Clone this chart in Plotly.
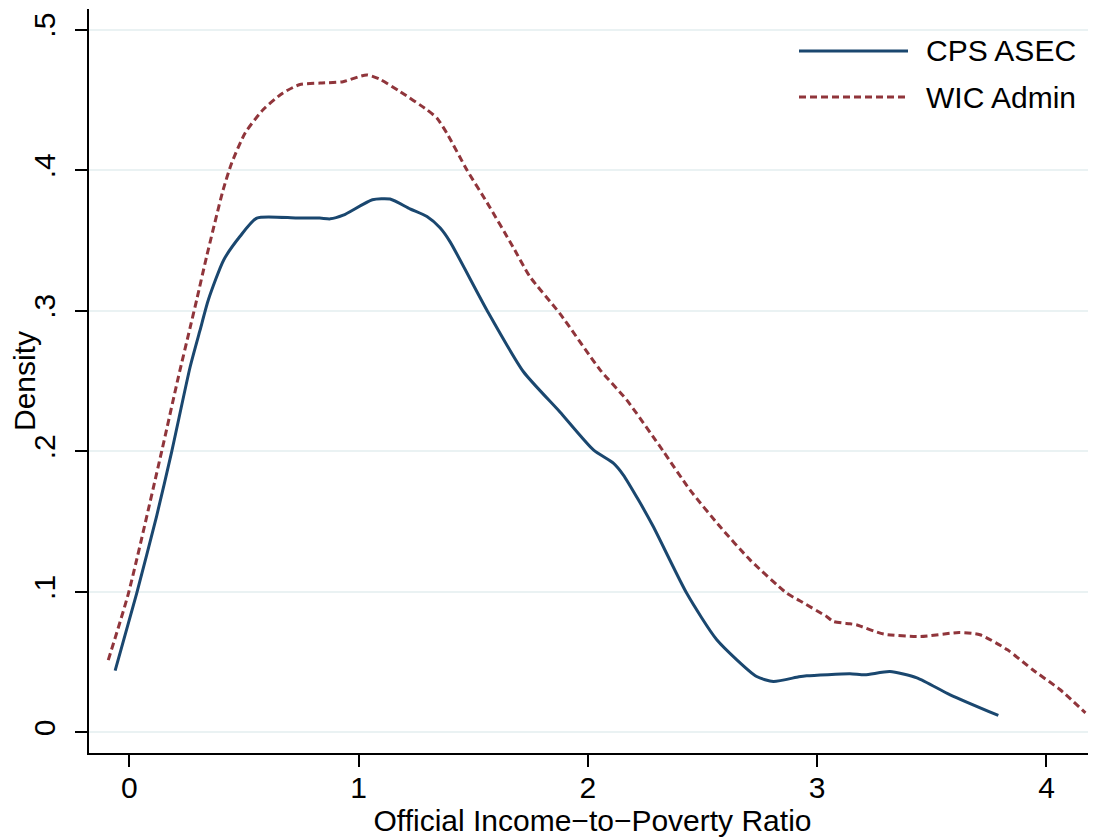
import plotly.graph_objects as go

# CPS ASEC density
cps_x = [-0.062, 0.032, 0.119, 0.185, 0.265, 0.308, 0.345, 0.411, 0.483, 0.556, 0.73, 0.83,
         0.876, 0.933, 1.06, 1.137, 1.224, 1.298, 1.355, 1.399, 1.559, 1.718, 1.878, 2.024,
         2.111, 2.154, 2.22, 2.285, 2.431, 2.562, 2.736, 2.809, 2.92, 2.954, 3.143, 3.208,
         3.317, 3.435, 3.58, 3.79]
cps_y = [0.044, 0.099, 0.154, 0.200, 0.260, 0.286, 0.308, 0.336, 0.353, 0.366, 0.366, 0.366,
         0.3654, 0.368, 0.379, 0.3795, 0.3725, 0.367, 0.359, 0.349, 0.3006, 0.2568, 0.228, 0.201,
         0.1916, 0.1833, 0.1655, 0.1465, 0.099, 0.066, 0.0398, 0.0363, 0.0396, 0.0403, 0.0417, 0.041,
         0.0434, 0.0389, 0.0268, 0.0121]

# WIC Admin density
wic_x = [-0.092, -0.004, 0.141, 0.214, 0.265, 0.294, 0.337, 0.409, 0.446, 0.505, 0.583, 0.67,
         0.744, 0.832, 0.932, 1.035, 1.093, 1.18, 1.298, 1.342, 1.386, 1.473, 1.56, 1.673,
         1.747, 1.878, 2.053, 2.169, 2.329, 2.445, 2.576, 2.707, 2.867, 2.924, 3.041, 3.07,
         3.143, 3.17, 3.29, 3.45, 3.62, 3.71, 3.83, 3.94, 4.06, 4.17]
wic_y = [0.0515, 0.099, 0.200, 0.253, 0.288, 0.308, 0.3386, 0.386, 0.405, 0.4265, 0.443, 0.455,
         0.461, 0.462, 0.463, 0.4678, 0.4647, 0.456, 0.443, 0.437, 0.426, 0.400, 0.377, 0.3455,
         0.3243, 0.298, 0.258, 0.2366, 0.2, 0.1726, 0.1465, 0.1228, 0.0991, 0.0937, 0.0825, 0.079,
         0.0773, 0.0766, 0.070, 0.0683, 0.0711, 0.0695, 0.0588, 0.0446, 0.0304, 0.014]

series_names = ["CPS ASEC", "WIC Admin"]
x_ticks = [0, 1, 2, 3, 4]
x_ticktext = ["0", "1", "2", "3", "4"]
y_ticks = [0, 0.1, 0.2, 0.3, 0.4, 0.5]
y_ticktext = ["0", ".1", ".2", ".3", ".4", ".5"]

BLUE = "#1a476f"
RED = "#90353b"
FONT = "Liberation Sans, Arial, sans-serif"
FS = 30

fig = go.Figure()
fig.add_trace(go.Scatter(x=cps_x, y=cps_y, mode="lines", name=series_names[0],
                         line=dict(color=BLUE, width=3, shape="spline", smoothing=0.6)))
fig.add_trace(go.Scatter(x=wic_x, y=wic_y, mode="lines", name=series_names[1],
                         line=dict(color=RED, width=3, dash="7px,4px", shape="spline", smoothing=0.6)))

# page has an 8px body margin: figure is drawn at (8, 8) in the window
OFF = 8
W, H = 1096 - OFF, 840 - OFF
L, R, T, B = 89 - OFF, 0, 9 - OFF, 840 - 753
pw, ph = W - L - R, H - T - B

# manual legend (Stata style long samples); positions in window pixels
leg = [(series_names[0], BLUE, "solid", 51), (series_names[1], RED, "7px,4px", 97)]
for name, col, dash, ypx in leg:
    yp = (753 - ypx) / ph
    fig.add_shape(type="line", xref="paper", yref="paper",
                  x0=(799 - 89) / pw, x1=(908 - 89) / pw, y0=yp, y1=yp,
                  line=dict(color=col, width=3, dash=dash))
    fig.add_annotation(xref="paper", yref="paper", x=(924 - 89) / pw, y=yp,
                       text=name, showarrow=False, xanchor="left", yanchor="middle",
                       font=dict(family=FONT, size=FS, color="black"))

fig.update_layout(
    width=W, height=H,
    margin=dict(l=L, r=R, t=T, b=B, autoexpand=False),
    paper_bgcolor="white", plot_bgcolor="white",
    showlegend=False,
    font=dict(family=FONT, size=FS, color="black"),
)
fig.update_xaxes(range=[-0.176, 4.216], tickvals=x_ticks, ticktext=x_ticktext,
                 showgrid=False, zeroline=False, showline=True, linecolor="black", linewidth=1.5,
                 ticks="outside", ticklen=12, tickwidth=1.5, tickcolor="black",
                 automargin=False, ticklabelstandoff=-5,
                 title=dict(text="Official Income\u2212to\u2212Poverty Ratio",
                            font=dict(family=FONT, size=FS), standoff=0),
                 tickfont=dict(family=FONT, size=FS))
fig.update_yaxes(range=[-0.0146, 0.5147], tickvals=y_ticks, ticktext=y_ticktext,
                 showgrid=True, gridcolor="#eaf2f3", gridwidth=2, zeroline=False,
                 showline=True, linecolor="black", linewidth=1.5,
                 ticks="outside", ticklen=12, tickwidth=1.5, tickcolor="black",
                 tickangle=-90, automargin=False, ticklabelstandoff=8,
                 title=dict(text="Density", font=dict(family=FONT, size=FS), standoff=0),
                 tickfont=dict(family=FONT, size=FS))

fig.write_html("out.html")
